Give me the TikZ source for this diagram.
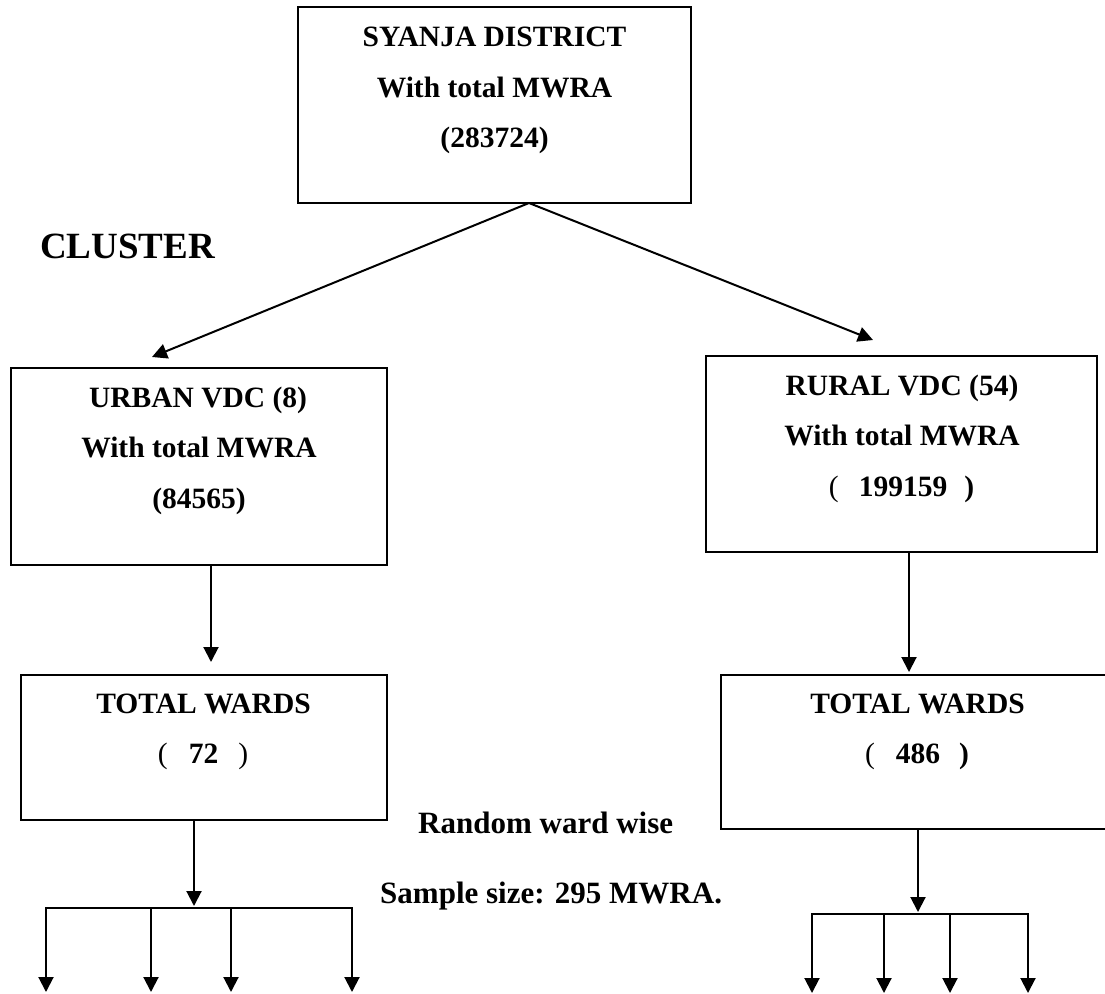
\documentclass[tikz,border=0pt]{standalone}
\usepackage{fontspec}
\setmainfont{Liberation Serif}
\usetikzlibrary{arrows.meta}
\begin{document}
\begin{tikzpicture}[x=1pt,y=-1pt,
  box/.style={draw, line width=2pt, inner sep=0pt},
  txt/.style={font=\fontsize{29.5}{35}\selectfont\bfseries, anchor=base, inner sep=0pt},
  lbl/.style={font=\fontsize{31}{37}\selectfont\bfseries, anchor=base west, inner sep=0pt},
  head/.style={-{Triangle[length=15pt,width=15pt]}, line width=2pt},
  twohead/.style={{Triangle[length=15pt,width=15pt]}-{Triangle[length=15pt,width=15pt]}, line width=2pt},
  link/.style={line width=2pt}]
\useasboundingbox (0,0) rectangle (1105,993);

% district box
\node[box, minimum width=393pt, minimum height=196pt] (district) at (494.5,105) {};
\node[txt] (d1) at (494.5,46) {SYANJA DISTRICT};
\node[txt] (d2) at (494.5,97) {With total MWRA};
\node[txt] (d3) at (494.5,147) {(283724)};

% heading
\node[lbl, font=\fontsize{37}{44}\selectfont\bfseries] (cluster) at (40,258) {CLUSTER};

% urban branch
\node[box, minimum width=376pt, minimum height=197pt] (urban) at (199,466.5) {};
\node[txt] (u1) at (198,407) {URBAN VDC (8)};
\node[txt] (u2) at (199,457) {With total MWRA};
\node[txt] (u3) at (199,508) {(84565)};

\node[box, minimum width=366pt, minimum height=145pt] (uwards) at (204,747.5) {};
\node[txt] (w1) at (203.5,713) {TOTAL WARDS};
\node[txt] (w2) at (203,763) {{\mdseries(}\hspace{21pt}72\hspace{20pt}{\mdseries)}};

% rural branch
\node[box, minimum width=391pt, minimum height=196pt] (rural) at (901.5,454) {};
\node[txt] (r1) at (902,395) {RURAL VDC (54)};
\node[txt] (r2) at (902,445) {With total MWRA};
\node[txt] (r3) at (901.5,496) {{\mdseries(}\hspace{20pt}199159\hspace{17pt})};

\node[box, minimum width=393pt, minimum height=154pt] (rwards) at (917.5,752) {};
\node[txt] (t1) at (917.5,713) {TOTAL WARDS};
\node[txt] (t2) at (917,763) {{\mdseries(}\hspace{21pt}486\hspace{19pt})};

% sampling notes
\node[lbl] (random) at (418,833) {Random ward wise};
\node[lbl] (sample) at (380,903) {Sample size: 295 MWRA.};

% split from the district box
\coordinate (apex) at (529,203);
\coordinate (urbanIn) at (152,357);
\coordinate (ruralIn) at (873,340);
\draw[head] (apex) -- (urbanIn);
\draw[head] (apex) -- (ruralIn);

% VDC boxes to ward boxes
\draw[head] ([xshift=12pt]urban.south) -- ([xshift=7pt,yshift=12pt]uwards.north);
\draw[head] ([xshift=7.5pt]rural.south) -- ([xshift=-8.5pt,yshift=2pt]rwards.north);

% ward boxes to the fan-out bars
\coordinate (uhub) at (194,906);
\coordinate (rhub) at (918,912);
\draw[head] ([xshift=-10pt]uwards.south) -- (uhub);
\draw[head] ([xshift=0.5pt]rwards.south) -- (rhub);

% urban fan-out
\coordinate (ub1) at (46,908);
\coordinate (ub2) at (151,908);
\coordinate (ub3) at (231,908);
\coordinate (ub4) at (352,908);
\coordinate (ud1) at (46,992);
\coordinate (ud2) at (151,992);
\coordinate (ud3) at (231,992);
\coordinate (ud4) at (352,992);
\draw[twohead] (ud1) -- (ub1) -- (ub4) -- (ud4);
\draw[head] (ub2) -- (ud2);
\draw[head] (ub3) -- (ud3);

% rural fan-out
\coordinate (rb1) at (812,914);
\coordinate (rb2) at (884,914);
\coordinate (rb3) at (950,914);
\coordinate (rb4) at (1028,914);
\coordinate (rd1) at (812,993);
\coordinate (rd2) at (884,993);
\coordinate (rd3) at (950,993);
\coordinate (rd4) at (1028,993);
\draw[twohead] (rd1) -- (rb1) -- (rb4) -- (rd4);
\draw[head] (rb2) -- (rd2);
\draw[head] (rb3) -- (rd3);
\end{tikzpicture}
\end{document}
